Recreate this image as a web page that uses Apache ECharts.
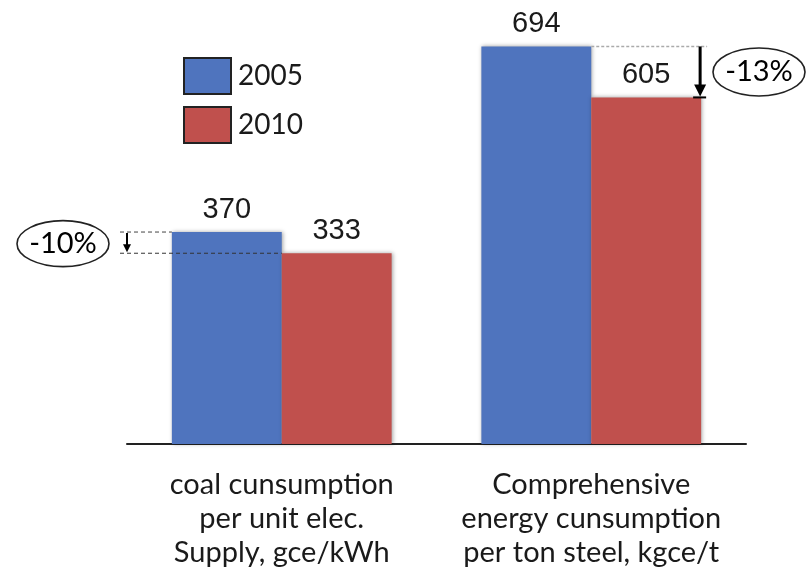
<!DOCTYPE html>
<html>
<head>
<meta charset="utf-8">
<script src="https://cdn.jsdelivr.net/npm/echarts@6/dist/echarts.min.js"></script>
<style>
  html, body { margin: 0; padding: 0; background: #fff; }
  #chart { width: 808px; height: 578px; }
</style>
</head>
<body>
<div id="chart"></div>
<script>
// Energy intensity indicators, 2005 vs 2010
const categories = [
  'coal cunsumption\nper unit elec.\nSupply, gce/kWh',
  'Comprehensive\nenergy cunsumption\nper ton steel, kgce/t'
];
const seriesNames = ['2005', '2010'];
const values2005 = [370, 694];
const values2010 = [333, 605];

const BLUE = '#4F74BE';
const RED = '#C0504D';
const TEXT = '#1a1a1a';
const GAP = 0.29;

const chart = echarts.init(document.getElementById('chart'), null, { renderer: 'canvas' });

const barStyle = (color) => ({
  color: color,
  shadowBlur: 4,
  shadowColor: 'rgba(0,0,0,0.35)',
  shadowOffsetX: 1
});

const valueLabel = {
  show: true,
  position: 'top',
  distance: 8,
  fontFamily: 'Liberation Sans',
  fontSize: 29,
  color: TEXT
};

chart.setOption({
  animation: false,
  backgroundColor: '#fff',
  grid: { left: 127, right: 62, top: 43, bottom: 134 },
  legend: {
    orient: 'vertical',
    left: 178,
    top: 52,
    itemWidth: 47,
    itemHeight: 36,
    itemGap: 11,
    icon: 'rect',
    data: seriesNames,
    itemStyle: { borderColor: '#222', borderWidth: 2 },
    textStyle: { fontFamily: 'Lato', fontSize: 28, color: TEXT, padding: [0, 0, 0, 2] }
  },
  xAxis: {
    type: 'category',
    data: categories,
    axisTick: { show: false },
    axisLine: { lineStyle: { color: '#222', width: 2 } },
    axisLabel: {
      interval: 0,
      margin: 24,
      fontFamily: 'Lato',
      fontSize: 29,
      lineHeight: 34,
      color: TEXT,
      align: 'center'
    }
  },
  yAxis: {
    type: 'value',
    min: 0,
    max: 700,
    show: false,
    splitLine: { show: false }
  },
  series: [
    {
      name: seriesNames[0],
      type: 'bar',
      data: values2005,
      barGap: '0%',
      barCategoryGap: (GAP * 100) + '%',
      itemStyle: barStyle(BLUE),
      label: valueLabel
    },
    {
      name: seriesNames[1],
      type: 'bar',
      data: values2010,
      barGap: '0%',
      barCategoryGap: (GAP * 100) + '%',
      itemStyle: barStyle(RED),
      label: valueLabel
    }
  ]
});

// Change annotations: dashed reference lines, arrows and percentage ellipses
function pct(a, b) {
  return Math.round((b - a) / a * 100) + '%';
}

const px = (ci, v) => chart.convertToPixel({ xAxisIndex: 0, yAxisIndex: 0 }, [ci, v]);
const c0 = px(0, 0), c1 = px(1, 0);
const band = c1[0] - c0[0];
const barW = band * (1 - GAP) / 2;

const graphics = [];

// Left group
{
  const yTop = px(0, values2005[0])[1];
  const yBot = px(0, values2010[0])[1];
  const xc = c0[0];
  const blueLeft = xc - barW;
  const ax = 127;
  graphics.push(
    { type: 'line', shape: { x1: 120, y1: yTop, x2: blueLeft, y2: yTop },
      style: { stroke: '#444', lineWidth: 1, lineDash: [4, 3] }, z: 10 },
    { type: 'line', shape: { x1: 120, y1: yBot, x2: xc, y2: yBot },
      style: { stroke: '#333', lineWidth: 1, lineDash: [4, 3] }, z: 10 },
    { type: 'line', shape: { x1: ax, y1: yTop + 1, x2: ax, y2: yBot - 7 },
      style: { stroke: '#000', lineWidth: 2 }, z: 10 },
    { type: 'polygon', shape: { points: [[ax - 4, yBot - 9], [ax + 4, yBot - 9], [ax, yBot - 1]] },
      style: { fill: '#000' }, z: 10 },
    { type: 'ellipse', shape: { cx: 63, cy: (yTop + yBot) / 2 + 1, rx: 46, ry: 23 },
      style: { fill: '#fff', stroke: '#222', lineWidth: 1.6 }, z: 10 },
    { type: 'text', x: 63, y: (yTop + yBot) / 2 + 1,
      style: { text: pct(values2005[0], values2010[0]), fontFamily: 'Lato', fontSize: 29,
               fill: '#000', align: 'center', verticalAlign: 'middle' }, z: 11 }
  );
}

// Right group
{
  const yTop = px(1, values2005[1])[1];
  const yBot = px(1, values2010[1])[1];
  const xc = c1[0];
  const redRight = xc + barW;
  const ax = redRight - 1;
  graphics.push(
    { type: 'line', shape: { x1: xc, y1: yTop, x2: ax + 7, y2: yTop },
      style: { stroke: '#aaa', lineWidth: 1.5, lineDash: [3, 2] }, z: 10 },
    { type: 'line', shape: { x1: ax, y1: yTop, x2: ax, y2: yBot - 10 },
      style: { stroke: '#000', lineWidth: 3 }, z: 10 },
    { type: 'polygon', shape: { points: [[ax - 6, yBot - 13], [ax + 6, yBot - 13], [ax, yBot - 1]] },
      style: { fill: '#000' }, z: 10 },
    { type: 'line', shape: { x1: ax - 7, y1: yBot, x2: ax + 6, y2: yBot },
      style: { stroke: '#000', lineWidth: 2 }, z: 10 },
    { type: 'ellipse', shape: { cx: 759, cy: (yTop + yBot) / 2, rx: 46, ry: 24 },
      style: { fill: '#fff', stroke: '#222', lineWidth: 1.6 }, z: 10 },
    { type: 'text', x: 759, y: (yTop + yBot) / 2,
      style: { text: pct(values2005[1], values2010[1]), fontFamily: 'Lato', fontSize: 29,
               fill: '#000', align: 'center', verticalAlign: 'middle' }, z: 11 }
  );
}

chart.setOption({ graphic: graphics });
</script>
</body>
</html>
